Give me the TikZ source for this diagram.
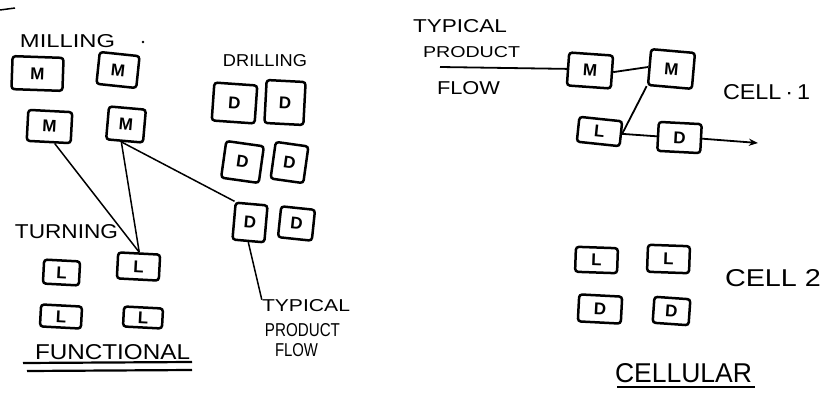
\documentclass[tikz,border=0pt]{standalone}
\usepackage{fontspec}
\setmainfont{Liberation Sans}
\usepackage{graphicx}
\usetikzlibrary{arrows.meta,calc}
\newcommand\hw[3]{\resizebox{#1pt}{#2pt}{#3}}
\tikzset{
  mbox/.style={draw, line width=2.5pt, rounded corners=3pt, inner sep=0pt,
    font=\bfseries\fontsize{17}{17}\selectfont},
  sz/.style 2 args={minimum width=#1pt, minimum height=#2pt},
  lbl/.style={inner sep=0pt, anchor=center},
  flow/.style={line width=1.5pt},
  cflow/.style={line width=1.8pt},
  uline/.style={line width=2.2pt},
}
\begin{document}
\begin{tikzpicture}[x=1pt,y=-1pt]
\useasboundingbox (0,0) rectangle (821,393);

% ---------- FUNCTIONAL layout ----------
\coordinate (tick1) at (0,10); \coordinate (tick2) at (15,8);
\draw[line width=1.5pt] (tick1) -- (tick2);
\node[lbl] (milling) at (67.5,41.5) {\hw{95}{13}{MILLING}};
\node[circle, fill, inner sep=1pt] (dot1) at (143,42) {};
\node[lbl] (drilling) at (265,61) {\hw{84}{12}{DRILLING}};
\node[lbl] (turning) at (66.5,232) {\hw{103}{14}{TURNING}};
\node[lbl] (functional) at (112.5,352.5) {\hw{155}{15}{FUNCTIONAL}};
\coordinate (u1a) at (23,363); \coordinate (u1b) at (192,362);
\coordinate (u2a) at (27,371); \coordinate (u2b) at (192,370);
\draw[uline] (u1a) -- (u1b);
\draw[uline] (u2a) -- (u2b);

\node[lbl] (tpf1) at (306,306) {\hw{88}{12}{TYPICAL}};
\node[lbl] (tpf2) at (302.5,330) {\hw{75}{13}{PRODUCT}};
\node[lbl] (tpf3) at (296.5,350) {\hw{43}{13}{FLOW}};

% milling machines
\node[mbox, sz={51}{33}, rotate=-2] (mA) at (37.5,73.5) {M};
\node[mbox, sz={40}{32}, rotate=-6] (mB) at (118,70) {M};
\node[mbox, sz={44}{31}, rotate=-3] (mC) at (49.5,126.5) {M};
\node[mbox, sz={37}{33}, rotate=-5] (mD) at (126,124.5) {M};
% drilling machines
\node[mbox, sz={43}{38}, rotate=-4] (d1) at (234.5,103) {D};
\node[mbox, sz={39}{43}, rotate=-3] (d2) at (285,102.5) {D};
\node[mbox, sz={38}{37}, rotate=-8] (d3) at (242.5,162) {D};
\node[mbox, sz={33}{37}, rotate=-8] (d4) at (289.5,162.5) {D};
\node[mbox, sz={32}{37}, rotate=-5] (d5) at (250,222.5) {D};
\node[mbox, sz={34}{31}, rotate=-6] (d6) at (296.5,223.5) {D};
% lathes
\node[mbox, sz={36}{24}, rotate=-3] (l1) at (61.5,272.5) {L};
\node[mbox, sz={42}{26}, rotate=-3] (l2) at (138.5,266.5) {L};
\node[mbox, sz={41}{22}, rotate=-3] (l3) at (61,316.5) {L};
\node[mbox, sz={39}{20}, rotate=-3] (l4) at (143,317.5) {L};

% typical product flow (functional)
\draw[flow] (mC.-70) -- (l2.north);
\draw[flow] (mD.-100) -- (l2.north);
\draw[flow] (mD.-100) -- (d5.north west);
\draw[flow] (d5.south) -- (tpf1.north west);

% ---------- CELLULAR layout ----------
\node[lbl] (tpr1) at (460,26.5) {\hw{94}{13}{TYPICAL}};
\node[lbl] (tpr2) at (471.5,52.5) {\hw{97}{11}{PRODUCT}};
\node[lbl] (tpr3) at (468.5,88.5) {\hw{63}{13}{FLOW}};
\node[lbl] (cell1) at (766.5,92) {\hw{87}{15}{CELL\,·\,1}};
\node[lbl] (cell2) at (773,278.5) {\hw{96}{17}{CELL 2}};
\node[lbl] (cellular) at (683.5,373) {\hw{137}{19}{CELLULAR}};
\coordinate (u3a) at (617,387); \coordinate (u3b) at (755,387);
\draw[uline] (u3a) -- (u3b);

\node[mbox, sz={44}{33}, rotate=-4] (cM1) at (590,70.5) {M};
\node[mbox, sz={44}{36}, rotate=-5] (cM2) at (671.5,69) {M};
\node[mbox, sz={43}{25}, rotate=-6] (cL) at (599.5,131.5) {L};
\node[mbox, sz={43}{29}, rotate=-3] (cD) at (679.5,137.5) {D};

\node[mbox, sz={42}{25}, rotate=-2] (c2L1) at (596.5,260) {L};
\node[mbox, sz={42}{27}, rotate=-2] (c2L2) at (668.5,259) {L};
\node[mbox, sz={43}{27}, rotate=-3] (c2D1) at (600,309) {D};
\node[mbox, sz={36}{26}, rotate=-4] (c2D2) at (671.5,311) {D};

\coordinate (fin) at (440,67);
\coordinate (fout) at (758,143);
\draw[cflow] (fin) -- (cM1.west);
\draw[cflow] (cM1.east) -- (cM2.west);
\draw[cflow] (cL.east) -- (cM2.south west);
\draw[cflow] (cL.east) -- (cD.west);
\draw[cflow, -{Stealth[length=9pt,width=7pt]}] (cD.east) -- (fout);
\end{tikzpicture}
\end{document}
